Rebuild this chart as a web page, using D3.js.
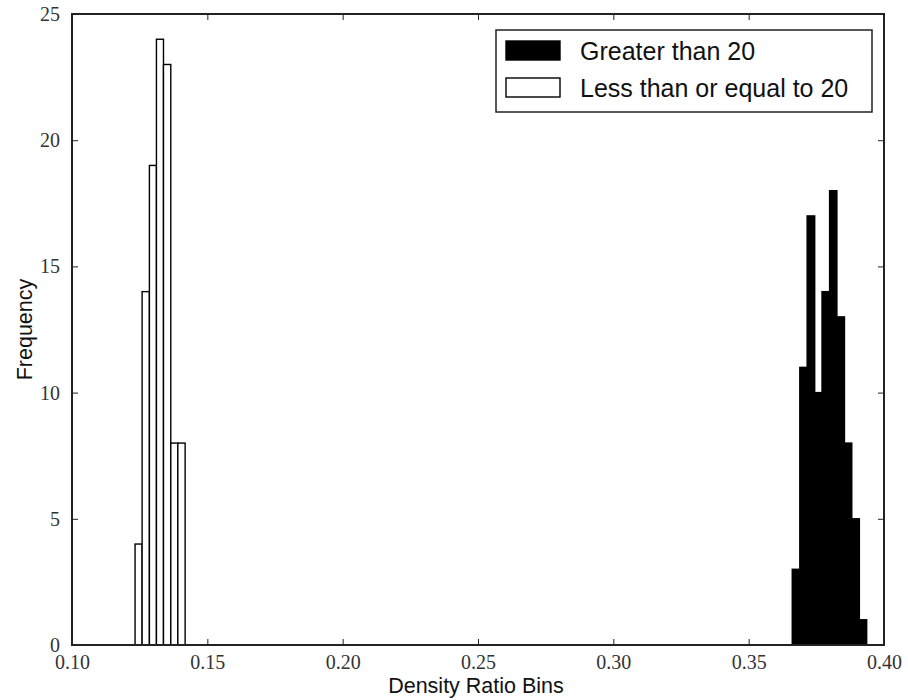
<!DOCTYPE html>
<html>
<head>
<meta charset="utf-8">
<script src="https://cdn.jsdelivr.net/npm/d3@7"></script>
<style>
  html, body { margin: 0; padding: 0; background: #fff; }
  svg { display: block; }
</style>
</head>
<body>
<svg id="chart" width="908" height="700"></svg>
<script>
// Histogram of density ratios, split by group
const seriesNames = ["Greater than 20", "Less than or equal to 20"];

// bin edges and counts, group "> 20"
const greaterEdges = [0.3661, 0.3689, 0.3716, 0.3744, 0.3771, 0.3799, 0.3826, 0.3854, 0.3881, 0.3909, 0.3936];
const greaterCounts = [3, 11, 17, 10, 14, 18, 13, 8, 5, 1];

// bin edges and counts, group "<= 20"
const lessEdges = [0.1233, 0.1259, 0.1286, 0.1312, 0.1338, 0.1365, 0.1391, 0.1418];
const lessCounts = [4, 14, 19, 24, 23, 8, 8];

const xTicks = [0.10, 0.15, 0.20, 0.25, 0.30, 0.35, 0.40];
const yTicks = [0, 5, 10, 15, 20, 25];
const xDomain = [0.10, 0.40];
const yDomain = [0, 25];

const margin = { left: 72, right: 24, top: 14, bottom: 55 };
const W = 908, H = 700;
const svg = d3.select("#chart");

const x = d3.scaleLinear().domain(xDomain).range([margin.left, W - margin.right]);
const y = d3.scaleLinear().domain(yDomain).range([H - margin.bottom, margin.top]);

function toBins(edges, counts) {
  return counts.map((c, i) => ({ x0: edges[i], x1: edges[i + 1], n: c }));
}

const groups = [
  { name: seriesNames[1], bins: toBins(lessEdges, lessCounts), fill: "#ffffff" },
  { name: seriesNames[0], bins: toBins(greaterEdges, greaterCounts), fill: "#000000" }
];

const plot = svg.append("g");
groups.forEach(g => {
  plot.append("g").selectAll("rect").data(g.bins).join("rect")
    .attr("x", d => x(d.x0))
    .attr("y", d => y(d.n))
    .attr("width", d => x(d.x1) - x(d.x0))
    .attr("height", d => y(0) - y(d.n))
    .attr("fill", g.fill)
    .attr("stroke", "#000")
    .attr("stroke-width", 1.4);
});

// axes: ticks point inward on all four sides
const tickLen = 6;
const serif = "'Liberation Serif', 'DejaVu Serif', serif";
const sans = "'Liberation Sans', Arial, sans-serif";

const xAxisB = d3.axisBottom(x).tickValues(xTicks).tickFormat(d3.format(".2f"))
  .tickSizeInner(-tickLen).tickSizeOuter(0).tickPadding(10);
const xAxisT = d3.axisTop(x).tickValues(xTicks).tickFormat("")
  .tickSizeInner(-tickLen).tickSizeOuter(0);
const yAxisL = d3.axisLeft(y).tickValues(yTicks).tickFormat(d3.format("d"))
  .tickSizeInner(-tickLen).tickSizeOuter(0).tickPadding(12);
const yAxisR = d3.axisRight(y).tickValues(yTicks).tickFormat("")
  .tickSizeInner(-tickLen).tickSizeOuter(0);

function styleAxis(g) {
  g.select(".domain").remove();
  g.selectAll(".tick line").attr("stroke", "#222").attr("stroke-width", 1);
  g.selectAll(".tick text").attr("fill", "#333").attr("font-family", serif).attr("font-size", 20);
}

svg.append("g").attr("transform", `translate(0,${y(0)})`).call(xAxisB).call(styleAxis);
svg.append("g").attr("transform", `translate(0,${y(25)})`).call(xAxisT).call(styleAxis);
svg.append("g").attr("transform", `translate(${x(0.10)},0)`).call(yAxisL).call(styleAxis);
svg.append("g").attr("transform", `translate(${x(0.40)},0)`).call(yAxisR).call(styleAxis);

// frame
svg.append("rect")
  .attr("x", x(0.10)).attr("y", y(25))
  .attr("width", x(0.40) - x(0.10)).attr("height", y(0) - y(25))
  .attr("fill", "none").attr("stroke", "#222").attr("stroke-width", 2);

// axis titles
svg.append("text")
  .attr("x", 476).attr("y", 693)
  .attr("text-anchor", "middle").attr("font-family", sans).attr("font-size", 21.5).attr("fill", "#111")
  .text("Density Ratio Bins");
svg.append("text")
  .attr("transform", `translate(32,${(y(0) + y(25)) / 2}) rotate(-90)`)
  .attr("text-anchor", "middle").attr("font-family", sans).attr("font-size", 21.5).attr("fill", "#111")
  .text("Frequency");

// legend
const lg = svg.append("g").attr("transform", "translate(496,30)");
lg.append("rect").attr("width", 376).attr("height", 82)
  .attr("fill", "#fff").attr("stroke", "#222").attr("stroke-width", 1.5);
const legendItems = [
  { name: seriesNames[0], fill: "#000000" },
  { name: seriesNames[1], fill: "#ffffff" }
];
legendItems.forEach((it, i) => {
  const row = lg.append("g").attr("transform", `translate(0,${11 + i * 37})`);
  row.append("rect").attr("x", 10).attr("y", 0).attr("width", 54).attr("height", 19)
    .attr("fill", it.fill).attr("stroke", "#000").attr("stroke-width", 1.4);
  row.append("text").attr("x", 84).attr("y", 19)
    .attr("font-family", sans).attr("font-size", 25).attr("fill", "#111")
    .text(it.name);
});
</script>
</body>
</html>
